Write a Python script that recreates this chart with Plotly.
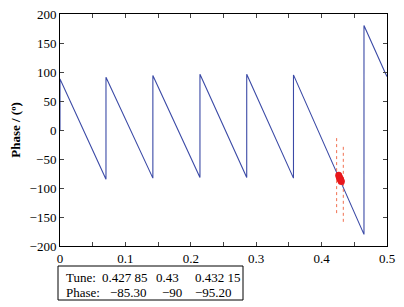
import plotly.graph_objects as go

# Phase vs tune sawtooth (vertices)
tune = [0.0, 0.0, 0.0703, 0.0703, 0.1420, 0.1420, 0.2140, 0.2140,
        0.2855, 0.2855, 0.3570, 0.3570, 0.4648, 0.4648, 0.4975, 0.5]
phase = [0, 88, -85, 91, -83, 94, -82, 96,
         -82, 96, -83, 95, -180, 180, 98, 92]

# highlighted points
mark_tune = [0.4262, 0.4270, 0.4278, 0.4286, 0.4294, 0.4302]
mark_phase = [-78, -81, -83, -85, -87, -89]

# dotted guide lines
guide_x = [0.4230, 0.4332]
guide_top = [-14, -29]
guide_bot = [-148, -162]

table_labels = ["Tune:", "Phase:"]
table_values = [["0.427 85", "0.43", "0.432 15"],
                ["\u221285.30", "\u221290", "\u221295.20"]]

SERIF = "Liberation Serif"

fig = go.Figure()
fig.add_trace(go.Scatter(x=tune, y=phase, mode="lines",
                         line=dict(color="#3b4aa6", width=1.1),
                         showlegend=False, hoverinfo="skip"))
for gx, gt, gb in zip(guide_x, guide_top, guide_bot):
    fig.add_trace(go.Scatter(x=[gx, gx], y=[gt, gb], mode="lines",
                             line=dict(color="#f07050", width=1, dash="dot"),
                             showlegend=False, hoverinfo="skip"))
fig.add_trace(go.Scatter(x=mark_tune, y=mark_phase, mode="markers",
                         marker=dict(color="#e8171c", size=7),
                         showlegend=False, hoverinfo="skip"))

font = dict(family=SERIF, size=13, color="black")

# page body has an 8px margin; compensate so the figure lands where the reference is
fig.update_layout(
    width=396, height=299,
    margin=dict(l=52, r=17, t=6, b=61, autoexpand=False),
    plot_bgcolor="white", paper_bgcolor="white",
    font=font,
    xaxis=dict(range=[0, 0.5], tickvals=[0, 0.1, 0.2, 0.3, 0.4, 0.5],
               ticktext=["0", "0.1", "0.2", "0.3", "0.4", "0.5"],
               ticks="inside", ticklen=4, showgrid=False, zeroline=False,
               showline=True, linecolor="black", linewidth=1, mirror="ticks",
               minor=dict(dtick=0.05, tick0=0, ticks="inside", ticklen=4),
               tickfont=font, automargin=False, ticklabeloverflow="allow"),
    yaxis=dict(range=[-200, 200], tickvals=[-200, -150, -100, -50, 0, 50, 100, 150, 200],
               ticktext=["\u2212200", "\u2212150", "\u2212100", "\u221250", "0",
                         "50", "100", "150", "200"],
               ticks="inside", ticklen=4, showgrid=False, zeroline=False,
               showline=True, linecolor="black", linewidth=1, mirror="ticks",
               tickfont=font, automargin=False, ticklabeloverflow="allow",
               title=dict(text="<b>Phase / (\u00ba)</b>", standoff=6,
                          font=dict(family=SERIF, size=13, color="black"))),
)

# table box below the axes (positions in page pixels -> paper coords)
def px_x(p):
    return (p - 60) / 327.0

def px_y(p):
    return (246 - p) / 232.0

fig.add_shape(type="rect", xref="paper", yref="paper",
              x0=px_x(58), x1=px_x(243), y0=px_y(266), y1=px_y(300),
              line=dict(color="black", width=1), fillcolor="white")

row_y = [277, 292]
col_centers = [[125, 167.5, 217.5], [128.5, 171.5, 213.5]]
for r in range(2):
    fig.add_annotation(x=px_x(64), y=px_y(row_y[r]), xref="paper", yref="paper",
                       text=table_labels[r], showarrow=False, xanchor="left",
                       yanchor="middle", font=font)
    for c, txt in enumerate(table_values[r]):
        fig.add_annotation(x=px_x(col_centers[r][c]), y=px_y(row_y[r]),
                           xref="paper", yref="paper", text=txt, showarrow=False,
                           xanchor="center", yanchor="middle", font=font)

fig.write_html("out.html")
